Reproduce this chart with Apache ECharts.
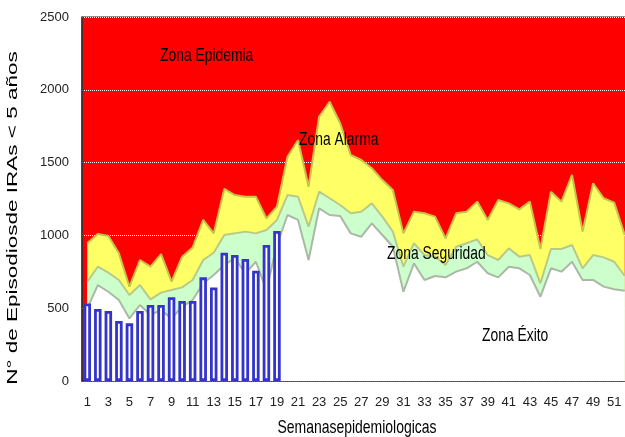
<!DOCTYPE html>
<html>
<head>
<meta charset="utf-8">
<script src="https://cdn.jsdelivr.net/npm/echarts@6/dist/echarts.min.js"></script>
<style>
    html, body { margin: 0; padding: 0; background: #fff; }
    #chart { width: 625px; height: 437px; }
</style>
</head>
<body>
<div id="chart"></div>
<script>
// semanas epidemiologicas 1..52
const semanas = ["1","2","3","4","5","6","7","8","9","10","11","12","13","14","15","16","17","18","19","20",
    "21","22","23","24","25","26","27","28","29","30","31","32","33","34","35","36","37","38","39","40",
    "41","42","43","44","45","46","47","48","49","50","51","52"];

// limite superior de cada zona del corredor endemico
const zonaExito = [499,659,613,556,430,522,453,488,430,510,556,671,728,797,843,740,819,625,934,1140,
    1106,831,1186,1140,1133,1014,991,1083,1003,922,613,808,694,721,712,751,774,819,740,712,
    785,774,728,579,774,751,819,694,694,648,630,620];
const zonaSeguridad = [682,785,744,694,591,659,561,607,625,643,694,831,881,1003,1014,1026,1014,1037,1106,1277,
    1266,1060,1300,1255,1209,1152,1163,1220,1129,1026,785,946,865,854,797,922,946,973,865,831,
    911,854,865,671,907,907,934,774,865,849,819,721];
const zonaAlarma = [946,1009,996,877,648,831,785,872,682,854,916,1106,1014,1319,1277,1266,1266,1117,1197,1540,
    1655,1334,1815,1918,1770,1552,1518,1461,1380,1312,1014,1163,1152,1129,980,1152,1163,1232,1106,1243,
    1220,1179,1232,907,1300,1232,1415,1026,1358,1255,1225,1003];

// episodios observados (semanas 1 a 19)
const episodios = [533,494,481,412,396,481,522,522,575,549,549,712,643,881,865,838,758,934,1030];

const fuente = "'Liberation Sans', Arial, sans-serif";

const chart = echarts.init(document.getElementById("chart"));

// una zona = area desde 0 hasta su limite
function zona(name, data, fill, edge, z) {
    return {
        name: name,
        type: "line",
        data: data,
        showSymbol: false,
        z: z,
        lineStyle: { color: edge, width: 2 },
        areaStyle: { color: fill, opacity: 1 },
    };
}

// rotulo de zona, letra "angosta" con scaleX
function rotulo(text, x, y) {
    return {
        type: "text",
        x: x,
        y: y,
        scaleX: 0.73,
        z: 10,
        style: { text: text, font: "19px " + fuente, fill: "#000", align: "left", verticalAlign: "middle" },
    };
}

chart.setOption({
    animation: false,
    grid: {
        left: 82,
        right: -5,
        top: 17,
        bottom: 56,
        outerBoundsMode: "none", // el area de trazado sobrepasa el borde derecho
        show: true,
        backgroundColor: "#ff0000", // zona epidemia
        borderColor: "#222",
        borderWidth: 1,
    },
    xAxis: {
        type: "category",
        data: semanas,
        boundaryGap: true,
        axisLine: { lineStyle: { color: "#333", width: 1.5 } },
        axisTick: { show: false },
        axisLabel: { interval: 1, fontSize: 13, fontFamily: fuente, color: "#222", margin: 15 },
        splitLine: { show: false },
    },
    yAxis: {
        type: "value",
        min: 0,
        max: 2500,
        interval: 500,
        axisLine: { show: true, lineStyle: { color: "#333", width: 1.5 } },
        axisTick: { show: false },
        axisLabel: {
            fontSize: 13,
            fontFamily: fuente,
            color: "#222",
            margin: 13,
            formatter: (v) => String(v), // sin separador de miles
        },
        splitLine: { lineStyle: { color: "#f4f4f4", type: "dotted", width: 1 } },
    },
    series: [
        zona("Zona Alarma", zonaAlarma, "#ffff66", "#c9c24a", 2),
        zona("Zona Seguridad", zonaSeguridad, "#ccffcc", "#b9c98a", 3),
        zona("Zona Éxito", zonaExito, "#ffffff", "#a9b9a6", 4),
        {
            name: "Episodios",
            type: "bar",
            data: episodios,
            barWidth: 7.5,
            z: 5,
            itemStyle: { color: "#ffffff", borderColor: "#3434cc", borderWidth: 2.8 },
        },
    ],
    graphic: [
        rotulo("Zona Epidemia", 160, 56),
        rotulo("Zona Alarma", 299, 140),
        rotulo("Zona Seguridad", 387, 254),
        rotulo("Zona Éxito", 482, 336),
        {
            type: "text",
            x: 13,
            y: 218,
            rotation: Math.PI / 2,
            scaleX: 1.5,
            style: {
                text: "N° de Episodiosde IRAs < 5 años",
                font: "15px " + fuente,
                fill: "#000",
                align: "center",
                verticalAlign: "middle",
            },
        },
        {
            type: "text",
            x: 357,
            y: 428,
            scaleX: 0.735,
            style: {
                text: "Semanasepidemiologicas",
                font: "19px " + fuente,
                fill: "#000",
                align: "center",
                verticalAlign: "middle",
            },
        },
    ],
});
</script>
</body>
</html>
